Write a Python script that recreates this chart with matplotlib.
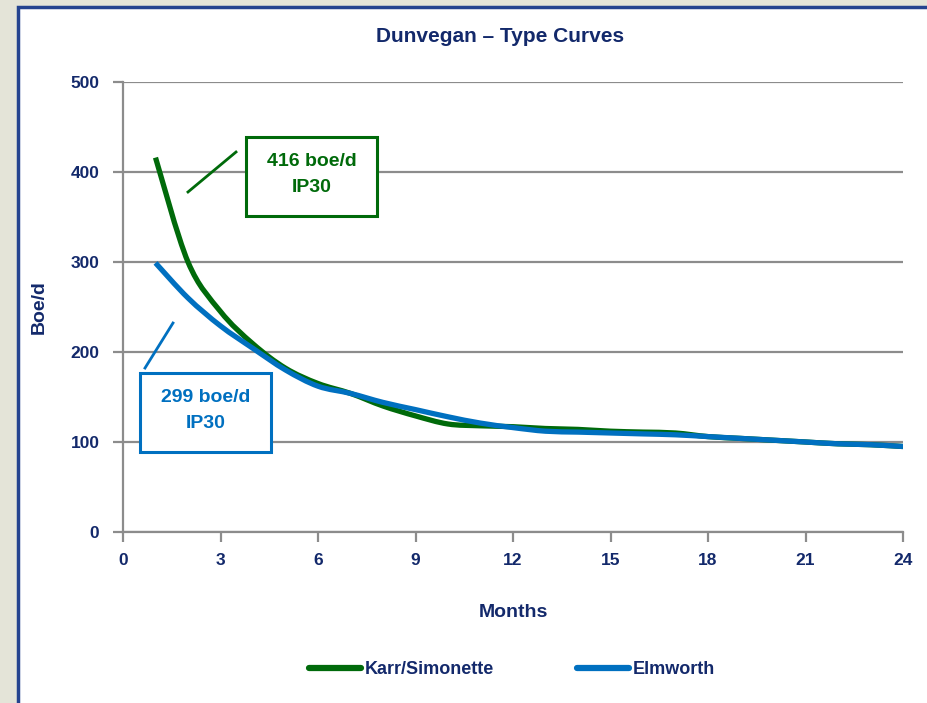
import matplotlib
matplotlib.use("Agg")
import matplotlib.pyplot as plt
from matplotlib.path import Path
from matplotlib.patches import PathPatch, Rectangle
from matplotlib.lines import Line2D

# ---- data -------------------------------------------------------------
months = list(range(1, 25))
karr_simonette = [416, 300, 245, 209, 182, 165, 154, 140, 129, 120,
                  118, 117, 115, 114, 112, 111, 110, 106, 104, 102,
                  100, 98, 97, 95]
elmworth = [299, 260, 229, 204, 180, 162, 154, 144, 136, 128,
            121, 116, 112, 111, 110, 109, 108, 106, 104, 102,
            100, 98, 97, 95]
series_names = ["Karr/Simonette", "Elmworth"]
ip30_labels = ["416 boe/d\nIP30", "299 boe/d\nIP30"]
x_ticks = list(range(0, 25, 3))
y_ticks = list(range(0, 501, 100))

GREEN = "#006a0a"
BLUE = "#0070c0"
NAVY = "#13296b"
GRID = "#8c8c8c"

plt.rcParams["font.family"] = ["Liberation Sans Narrow", "Liberation Sans", "DejaVu Sans"]


def smooth_path(xs, ys):
    """Excel-style smoothed line as cubic bezier segments."""
    pts = list(zip(xs, ys))
    verts = [pts[0]]
    codes = [Path.MOVETO]
    n = len(pts)
    for i in range(n - 1):
        p0 = pts[i - 1] if i > 0 else pts[i]
        p1 = pts[i]
        p2 = pts[i + 1]
        p3 = pts[i + 2] if i + 2 < n else pts[i + 1]
        c1 = (p1[0] + (p2[0] - p0[0]) / 6, p1[1] + (p2[1] - p0[1]) / 6)
        c2 = (p2[0] - (p3[0] - p1[0]) / 6, p2[1] - (p3[1] - p1[1]) / 6)
        verts += [c1, c2, p2]
        codes += [Path.CURVE4] * 3
    return Path(verts, codes)


fig = plt.figure(figsize=(9.27, 7.03), dpi=100, facecolor="#e4e4d8")

# white panel with navy border
fig.patches.append(Rectangle((18 / 927, -0.05), 1.0, 1 - 7 / 703 + 0.05,
                             transform=fig.transFigure, facecolor="white",
                             edgecolor="#24438f", linewidth=2.5, zorder=-5))

ax = fig.add_axes([123 / 927, 1 - 532 / 703, 780 / 927, 450 / 703])
ax.set_zorder(2)
ax.set_facecolor("white")
ax.set_xlim(0, 24)
ax.set_ylim(0, 500)

for spine in ["top", "right"]:
    ax.spines[spine].set_visible(False)
for spine in ["left", "bottom"]:
    ax.spines[spine].set_color(GRID)
    ax.spines[spine].set_linewidth(1.6)

ax.set_xticks(x_ticks)
ax.set_yticks(y_ticks)
ax.tick_params(axis="both", colors=GRID, width=1.6, length=7,
               labelcolor=NAVY, labelsize=12.5)
ax.tick_params(axis="x", pad=8)
ax.tick_params(axis="y", pad=10)
for lbl in ax.get_xticklabels() + ax.get_yticklabels():
    lbl.set_fontweight("bold")
ax.yaxis.grid(True, color=GRID, linewidth=1.6)
ax.set_axisbelow(True)

for ys, col, z in [(karr_simonette, GREEN, 3), (elmworth, BLUE, 4)]:
    ax.add_patch(PathPatch(smooth_path(months, ys), facecolor="none",
                           edgecolor=col, linewidth=3.8, capstyle="butt",
                           joinstyle="round", zorder=z))

# IP30 call-out boxes
boxes = [
    (3.785, 351, 4.03, 88, GREEN, ip30_labels[0], (2.0, 377.8), (3.477, 422.2)),
    (0.523, 88.9, 4.03, 88, BLUE, ip30_labels[1], (0.677, 182.2), (1.538, 232.2)),
]
for x0, y0, w, h, col, txt, a, b in boxes:
    ax.add_patch(Rectangle((x0, y0), w, h, facecolor="white", edgecolor=col,
                           linewidth=2.2, zorder=5))
    ax.text(x0 + w / 2, y0 + h / 2 + 2, txt, color=col, ha="center", va="center",
            fontsize=14, fontweight="bold", linespacing=1.65, zorder=6)
    ax.plot([a[0], b[0]], [a[1], b[1]], color=col, linewidth=2.0, zorder=5)

ax.set_xlabel("Months", color=NAVY, fontsize=14, fontweight="bold", labelpad=26)
ax.set_ylabel("Boe/d", color=NAVY, fontsize=14, fontweight="bold", labelpad=16)

fig.text(500 / 927, 1 - 36 / 703, "Dunvegan \u2013 Type Curves", color=NAVY,
         fontsize=15, fontweight="bold", ha="center", va="center")

handles = [Line2D([], [], color=GREEN, linewidth=4.5, solid_capstyle="round"),
           Line2D([], [], color=BLUE, linewidth=4.5, solid_capstyle="round")]
leg = fig.legend(handles, series_names, loc="center", ncol=2,
                 bbox_to_anchor=(512 / 927, 1 - 670 / 703), frameon=False,
                 prop={"size": 13, "weight": "bold"}, handlelength=2.9,
                 handletextpad=0.2, columnspacing=4.6)
for t in leg.get_texts():
    t.set_color(NAVY)

fig.savefig("out.png", dpi=100, facecolor=fig.get_facecolor())
